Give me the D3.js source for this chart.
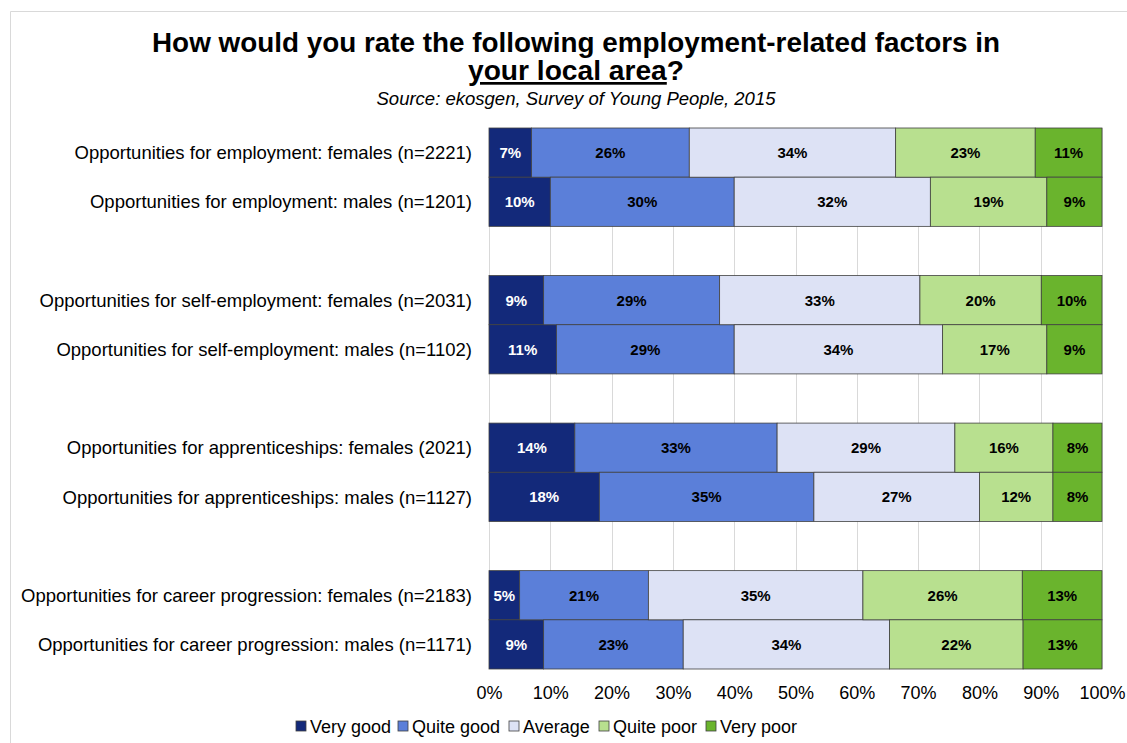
<!DOCTYPE html>
<html>
<head>
<meta charset="utf-8">
<script src="https://cdn.jsdelivr.net/npm/d3@7"></script>
<style>
  html, body { margin: 0; padding: 0; background: #fff; }
  svg { display: block; font-family: "Liberation Sans", Arial, sans-serif; }
</style>
</head>
<body>
<svg id="chart" width="1127" height="743"></svg>
<script>
// Survey categories, top to bottom (null = spacer slot between groups)
const categories = [
  "Opportunities for employment: females (n=2221)",
  "Opportunities for employment: males (n=1201)",
  null,
  "Opportunities for self-employment: females (n=2031)",
  "Opportunities for self-employment: males (n=1102)",
  null,
  "Opportunities for apprenticeships: females (2021)",
  "Opportunities for apprenticeships: males (n=1127)",
  null,
  "Opportunities for career progression: females (n=2183)",
  "Opportunities for career progression: males (n=1171)"
];

const ratings = ["Very good", "Quite good", "Average", "Quite poor", "Very poor"];

// Percentages per rating, in the same order as the categories (spacers skipped)
const veryGood  = [7, 10, 9, 11, 14, 18, 5, 9];
const quiteGood = [26, 30, 29, 29, 33, 35, 21, 23];
const average   = [34, 32, 33, 34, 29, 27, 35, 34];
const quitePoor = [23, 19, 20, 17, 16, 12, 26, 22];
const veryPoor  = [11, 9, 10, 9, 8, 8, 13, 13];

const tickLabels = ["0%", "10%", "20%", "30%", "40%", "50%", "60%", "70%", "80%", "90%", "100%"];

const colors = ["#13297A", "#5B7FD9", "#DDE2F5", "#B8E08F", "#6AB42D"];
const labelColors = ["#ffffff", "#000000", "#000000", "#000000", "#000000"];

// Build rows for the stack
const realCats = categories.filter(c => c !== null);
const rows = realCats.map((c, i) => ({
  cat: c,
  "Very good": veryGood[i],
  "Quite good": quiteGood[i],
  "Average": average[i],
  "Quite poor": quitePoor[i],
  "Very poor": veryPoor[i]
}));

const svg = d3.select("#chart");
const W = 1127, H = 743;

// Outer frame
svg.append("path")
  .attr("d", `M10.5,${H} V11.5 H${W}`)
  .attr("fill", "none")
  .attr("stroke", "#d9d9d9")
  .attr("stroke-width", 1);

const plot = { left: 489, right: 1102, top: 128, bottom: 669 };

const x = d3.scaleLinear().domain([0, 1]).range([plot.left, plot.right]);
const y = d3.scaleBand()
  .domain(categories.map((c, i) => c === null ? "__gap" + i : c))
  .range([plot.top, plot.bottom])
  .paddingInner(0).paddingOuter(0);

// Gridlines
const ticks = d3.range(0, 1.0001, 0.1);
svg.append("g")
  .selectAll("line")
  .data(ticks)
  .join("line")
  .attr("x1", d => Math.round(x(d)) + 0.5)
  .attr("x2", d => Math.round(x(d)) + 0.5)
  .attr("y1", plot.top)
  .attr("y2", plot.bottom)
  .attr("stroke", "#d9d9d9")
  .attr("stroke-width", 1);

// 100% stacked series
const stack = d3.stack().keys(ratings).offset(d3.stackOffsetExpand);
const series = stack(rows);

const g = svg.append("g");
series.forEach((s, si) => {
  const layer = g.append("g");
  layer.selectAll("rect")
    .data(s)
    .join("rect")
    .attr("x", d => x(d[0]))
    .attr("y", d => y(d.data.cat))
    .attr("width", d => x(d[1]) - x(d[0]))
    .attr("height", y.bandwidth())
    .attr("fill", colors[si])
    .attr("stroke", "#404040")
    .attr("stroke-width", 0.8);
  layer.selectAll("text")
    .data(s)
    .join("text")
    .attr("x", d => (x(d[0]) + x(d[1])) / 2)
    .attr("y", d => y(d.data.cat) + y.bandwidth() / 2)
    .attr("dy", "0.36em")
    .attr("text-anchor", "middle")
    .attr("font-size", 15)
    .attr("font-weight", "bold")
    .attr("fill", labelColors[si])
    .text(d => d.data[s.key] + "%");
});

// Category labels
svg.append("g")
  .selectAll("text")
  .data(realCats)
  .join("text")
  .attr("x", 472)
  .attr("y", d => y(d) + y.bandwidth() / 2)
  .attr("dy", "0.36em")
  .attr("text-anchor", "end")
  .attr("font-size", 18.5)
  .attr("fill", "#000")
  .text(d => d);

// X axis tick labels
const xAxis = d3.axisBottom(x)
  .tickValues(ticks)
  .tickFormat((d, i) => tickLabels[i])
  .tickSize(0)
  .tickPadding(17);
const ax = svg.append("g")
  .attr("transform", `translate(0, ${plot.bottom})`)
  .call(xAxis);
ax.select(".domain").remove();
ax.selectAll("text")
  .attr("font-size", 18)
  .attr("font-family", "'Liberation Sans', Arial, sans-serif")
  .attr("fill", "#000");

// Title
const title = svg.append("g")
  .attr("font-family", "'Liberation Sans Narrow', 'Liberation Sans', Arial, sans-serif");
title.append("text")
  .attr("x", 576)
  .attr("y", 52)
  .attr("text-anchor", "middle")
  .attr("font-size", 27)
  .attr("font-weight", "bold")
  .attr("textLength", 848)
  .attr("lengthAdjust", "spacingAndGlyphs")
  .text("How would you rate the following employment-related factors in");
const t2 = title.append("text")
  .attr("x", 576)
  .attr("y", 80)
  .attr("text-anchor", "middle")
  .attr("font-size", 27)
  .attr("font-weight", "bold")
  .attr("textLength", 216)
  .attr("lengthAdjust", "spacingAndGlyphs");
t2.append("tspan").attr("text-decoration", "underline").text("your local area");
t2.append("tspan").text("?");

title.append("text")
  .attr("x", 576)
  .attr("y", 105)
  .attr("text-anchor", "middle")
  .attr("font-size", 18.5)
  .attr("font-style", "italic")
  .attr("textLength", 399)
  .attr("lengthAdjust", "spacingAndGlyphs")
  .text("Source: ekosgen, Survey of Young People, 2015");

// Legend
const legendX = [296, 398, 509, 599, 706];
const legend = svg.append("g");
ratings.forEach((r, i) => {
  legend.append("rect")
    .attr("x", legendX[i])
    .attr("y", 721)
    .attr("width", 10)
    .attr("height", 10)
    .attr("fill", colors[i])
    .attr("stroke", "#404040")
    .attr("stroke-width", 0.8);
  legend.append("text")
    .attr("x", legendX[i] + 14)
    .attr("y", 733)
    .attr("font-size", 18)
    .text(r);
});
</script>
</body>
</html>
